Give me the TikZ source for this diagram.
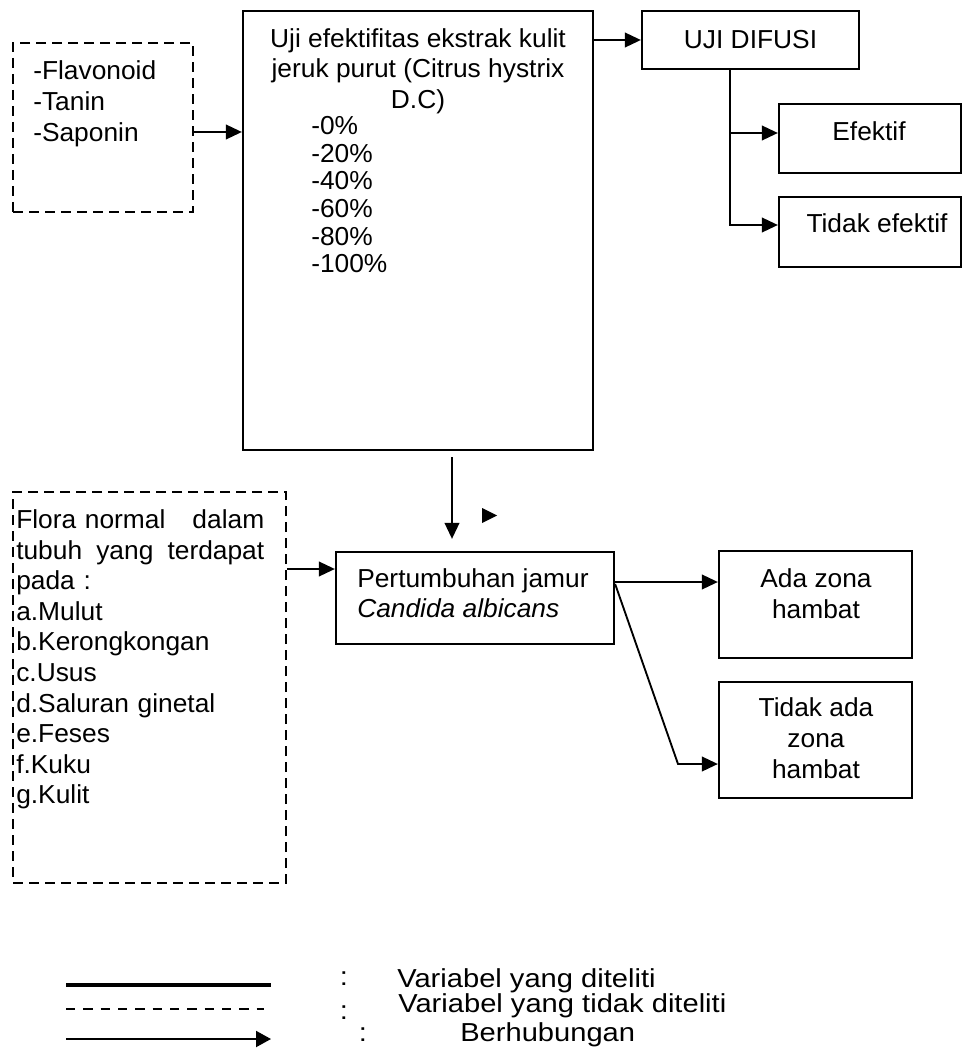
\documentclass[tikz,border=0pt]{standalone}
\usepackage{fontspec}
\setmainfont{Liberation Sans}[FakeStretch=1.013]
\newfontfamily\legfont{Liberation Sans}[FakeStretch=1.12]
\usetikzlibrary{arrows.meta}
\begin{document}
\begin{tikzpicture}[x=0.75pt,y=-0.75pt,
  box/.style={draw,line width=1.7pt,inner sep=0pt,rectangle},
  dbox/.style={draw,line width=1.8pt,inner sep=0pt,rectangle,dash pattern=on 7.5pt off 4.5pt},
  arr/.style={line width=1.4pt,-{Triangle[length=12pt,width=11pt]}},
  txt/.style={inner sep=0pt,font=\fontsize{19.5}{22.9}\selectfont},
  leg/.style={inner sep=0pt,font=\legfont\fontsize{19.5}{22}\selectfont},
]
\useasboundingbox (0,0) rectangle (963,1055);

% top left dashed box
\node[dbox,minimum width=135pt,minimum height=126.75pt] (flav) at (103,127.5) {};
\node[txt,anchor=north west,align=left,font=\fontsize{19.5}{23.25}\selectfont] (flavt) at (33,60.3) {-Flavonoid\\-Tanin\\-Saponin};

% main box
\node[box,minimum width=262.5pt,minimum height=329.25pt] (main) at (418,230.5) {};
\node[txt,anchor=north,align=center] (title) at (418,28.3) {Uji efektifitas ekstrak kulit\\jeruk purut (Citrus hystrix\\D.C)};
\node[txt,anchor=north west,align=left,font=\fontsize{19.5}{20.7}\selectfont] (pct) at (311,116.3) {-0\%\\-20\%\\-40\%\\-60\%\\-80\%\\-100\%};

% uji difusi
\node[box,minimum width=162.75pt,minimum height=43.5pt,font=\fontsize{19.5}{22.9}\selectfont] (uji) at (750.5,40) {UJI DIFUSI};
\node[box,minimum width=136.5pt,minimum height=51.75pt] (efek) at (870,138.5) {};
\node[txt,anchor=north] (efekt) at (869,121.3) {Efektif};
\node[box,minimum width=136.5pt,minimum height=52.5pt] (tefek) at (870,232) {};
\node[txt,anchor=north] (tefekt) at (877,213.3) {Tidak efektif};

% flora dashed box
\node[dbox,minimum width=204.75pt,minimum height=293.25pt] (flora) at (149.5,687.5) {};
\node[txt,anchor=north west,align=left,text width=186pt,font=\fontsize{19.5}{22.95}\selectfont] (florat) at (16,509.3) {Flora normal\hfill dalam\\tubuh\hfill yang\hfill terdapat\\pada :\\a.Mulut\\b.Kerongkongan\\c.Usus\\d.Saluran ginetal\\e.Feses\\f.Kuku\\g.Kulit};

% pertumbuhan
\node[box,minimum width=208.5pt,minimum height=69pt] (pert) at (475,598) {};
\node[txt,anchor=north west,align=left,font=\fontsize{19.5}{22.5}\selectfont] (pertt) at (357,568.3) {Pertumbuhan jamur\\\textit{Candida albicans}};

% results
\node[box,minimum width=144.75pt,minimum height=80.25pt] (ada) at (815.5,604.5) {};
\node[txt,anchor=north,align=center,font=\fontsize{19.5}{23.25}\selectfont] (adat) at (816,568.3) {Ada zona\\hambat};
\node[box,minimum width=144.75pt,minimum height=87pt] (tada) at (815.5,740) {};
\node[txt,anchor=north,align=center,font=\fontsize{19.5}{23.25}\selectfont] (tadat) at (816,697.3) {Tidak ada\\zona\\hambat};

% connectors
\draw[arr] (flav.east |- 0,132) -- (main.west |- 0,132);
\draw[arr] (main.east |- uji.west) -- (uji.west);
\coordinate (bx) at (730,133);
\draw[arr] (uji.south -| bx) |- (tefek.west |- 0,225);
\draw[arr] (bx) -- (efek.west |- bx);
\draw[arr,shorten <=4.5pt,shorten >=9pt] (main.south -| 452,0) -- (pert.north -| 452,0);
\draw[arr] (flora.east |- 0,569) -- (pert.west |- 0,569);
\draw[arr] (pert.east |- 0,582) -- (ada.west |- 0,582);
\coordinate (kink) at (678,764);
\draw[arr] (pert.east |- 0,584) -- (kink) -- (tada.west |- kink);

% stray arrowhead
\fill (482,508) -- (497,515.5) -- (482,523) -- cycle;

% legend
\draw[line width=2.5pt] (66,985) -- (271,985);
\draw[line width=2pt,dash pattern=on 7pt off 6pt] (66,1009) -- (264,1009);
\draw[line width=1.5pt,-{Triangle[length=11.25pt,width=12pt]}] (66,1039) -- (271,1039);
\node[leg,anchor=base] (c1) at (344,985) {:};
\node[leg,anchor=base] (c2) at (344,1019) {:};
\node[leg,anchor=base] (c3) at (363,1041) {:};
\node[leg,anchor=base west] (l1) at (397,987) {Variabel yang diteliti};
\node[leg,anchor=base west] (l2) at (398,1012) {Variabel yang tidak diteliti};
\node[leg,anchor=base west] (l3) at (460,1041) {Berhubungan};
\end{tikzpicture}
\end{document}
